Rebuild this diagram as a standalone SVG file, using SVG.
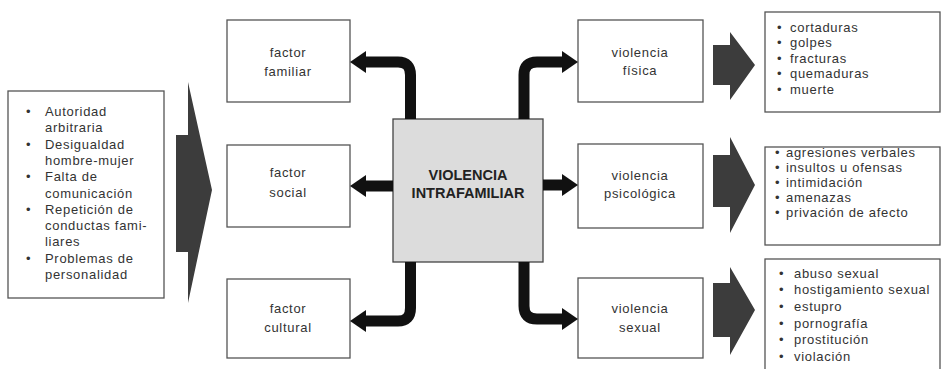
<svg xmlns="http://www.w3.org/2000/svg" width="941" height="369" viewBox="0 0 941 369">
<defs>
<style>
.box{fill:#fff;stroke:#555;stroke-width:1.3}
.center{fill:#dcdcdc;stroke:#444;stroke-width:1.3}
.t{font-family:"Liberation Sans",Arial,sans-serif;font-size:13px;fill:#333;letter-spacing:0.7px}
.c{text-anchor:middle}
.b{font-family:"Liberation Sans",Arial,sans-serif;font-size:14.5px;font-weight:bold;fill:#222;text-anchor:middle}
.con{fill:none;stroke:#111;stroke-width:11;stroke-linejoin:round}
.big{fill:#3c3c3c}
</style>
<marker id="ah" markerUnits="userSpaceOnUse" markerWidth="16" markerHeight="22" refX="2" refY="11" orient="auto" viewBox="0 0 16 22">
<path d="M0,0 L16,11 L0,22 Z" fill="#111"/>
</marker>
</defs>
<rect width="941" height="369" fill="#fff"/>

<g id="causas">
<rect class="box" x="8" y="91" width="156" height="207"/>
<g class="t">
<text x="26" y="116">•</text><text x="45" y="116">Autoridad</text>
<text x="45" y="132.3">arbitraria</text>
<text x="26" y="148.6">•</text><text x="45" y="148.6">Desigualdad</text>
<text x="45" y="164.9">hombre-mujer</text>
<text x="26" y="181.2">•</text><text x="45" y="181.2">Falta de</text>
<text x="45" y="197.5">comunicación</text>
<text x="26" y="213.8">•</text><text x="45" y="213.8">Repetición de</text>
<text x="45" y="230.1">conductas fami-</text>
<text x="45" y="246.4">liares</text>
<text x="26" y="262.7">•</text><text x="45" y="262.7">Problemas de</text>
<text x="45" y="279">personalidad</text>
</g>
</g>

<g id="flecha-causas">
<path class="big" d="M176,135 L188,135 L188,82 L212,190 L188,303 L188,252 L176,252 Z"/>
</g>

<g id="factor-familiar">
<rect class="box" x="227" y="20" width="123" height="82"/>
<text class="t c" x="288" y="56.5">factor</text>
<text class="t c" x="288" y="75.5">familiar</text>
</g>
<g id="factor-social">
<rect class="box" x="227" y="145" width="123" height="82"/>
<text class="t c" x="288" y="176.5">factor</text>
<text class="t c" x="288" y="197">social</text>
</g>
<g id="factor-cultural">
<rect class="box" x="227" y="279" width="123" height="79"/>
<text class="t c" x="288" y="312.5">factor</text>
<text class="t c" x="288" y="331.5">cultural</text>
</g>

<g id="violencia-intrafamiliar">
<rect class="center" x="393" y="119" width="150" height="143"/>
<text class="b" x="468" y="180">VIOLENCIA</text>
<text class="b" x="468" y="198">INTRAFAMILIAR</text>
</g>

<g id="violencia-fisica">
<rect class="box" x="578" y="20" width="125" height="82"/>
<text class="t c" x="640" y="56.5">violencia</text>
<text class="t c" x="640" y="75">física</text>
</g>
<g id="violencia-psicologica">
<rect class="box" x="578" y="144" width="125" height="84"/>
<text class="t c" x="640" y="179.5">violencia</text>
<text class="t c" x="640" y="197.5">psicológica</text>
</g>
<g id="violencia-sexual">
<rect class="box" x="578" y="278" width="125" height="80"/>
<text class="t c" x="640" y="312.5">violencia</text>
<text class="t c" x="640" y="332">sexual</text>
</g>

<g id="connectors">
<path class="con" marker-end="url(#ah)" d="M410.5,119 V75 Q410.5,62 398,62 H364"/>
<path class="con" marker-end="url(#ah)" d="M393,186 H364"/>
<path class="con" marker-end="url(#ah)" d="M410.5,262 V308 Q410.5,321 398,321 H364"/>
<path class="con" marker-end="url(#ah)" d="M524,119 V75 Q524,62 537,62 H564"/>
<path class="con" marker-end="url(#ah)" d="M543,185 H564"/>
<path class="con" marker-end="url(#ah)" d="M524,262 V306 Q524,319 537,319 H564"/>
</g>

<g id="flechas-efectos">
<path class="big" d="M713,45 H730 V32 L755,65 L730,100 V85 H713 Z"/>
<path class="big" d="M713,155 H730 V137 L755,185 L730,233 V207 H713 Z"/>
<path class="big" d="M713,283 H730 V267 L755,310 L730,355 V337 H713 Z"/>
</g>

<g id="efectos-fisica">
<rect class="box" x="765" y="12" width="175" height="100"/>
<g class="t">
<text x="777" y="31.5">•</text><text x="790" y="31.5">cortaduras</text>
<text x="777" y="47">•</text><text x="790" y="47">golpes</text>
<text x="777" y="62.5">•</text><text x="790" y="62.5">fracturas</text>
<text x="777" y="78">•</text><text x="790" y="78">quemaduras</text>
<text x="777" y="93.5">•</text><text x="790" y="93.5">muerte</text>
</g>
</g>
<g id="efectos-psicologica">
<rect class="box" x="765" y="147" width="175" height="98"/>
<g class="t">
<text x="775" y="156.5">•</text><text x="786" y="156.5">agresiones verbales</text>
<text x="775" y="171.5">•</text><text x="786" y="171.5">insultos u ofensas</text>
<text x="775" y="186.5">•</text><text x="786" y="186.5">intimidación</text>
<text x="775" y="201.5">•</text><text x="786" y="201.5">amenazas</text>
<text x="775" y="216.5">•</text><text x="786" y="216.5">privación de afecto</text>
</g>
</g>
<g id="efectos-sexual">
<rect class="box" x="765" y="259" width="175" height="115"/>
<g class="t">
<text x="779" y="277.5">•</text><text x="794" y="277.5">abuso sexual</text>
<text x="779" y="294">•</text><text x="794" y="294">hostigamiento sexual</text>
<text x="779" y="311">•</text><text x="794" y="311">estupro</text>
<text x="779" y="327.5">•</text><text x="794" y="327.5">pornografía</text>
<text x="779" y="344">•</text><text x="794" y="344">prostitución</text>
<text x="779" y="360.5">•</text><text x="794" y="360.5">violación</text>
</g>
</g>
</svg>
